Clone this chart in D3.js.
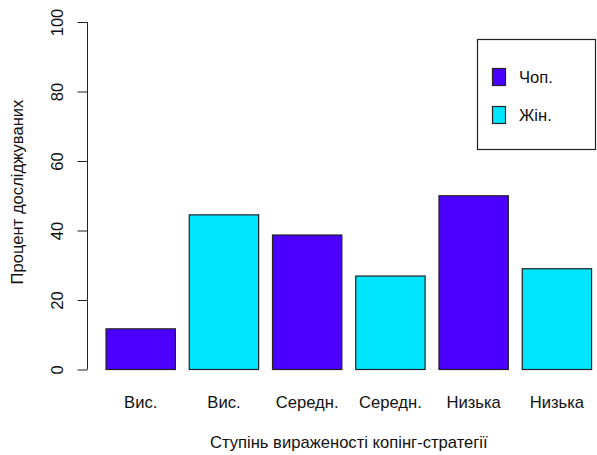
<!DOCTYPE html>
<html><head><meta charset="utf-8">
<script src="https://cdn.jsdelivr.net/npm/d3@7"></script>
<style>body{margin:0;background:#fff}svg{display:block;font-family:"Liberation Sans",Arial,sans-serif}</style>
</head><body><svg id="c" width="597" height="455"></svg>
<script>
const categories = ["Вис.","Вис.","Середн.","Середн.","Низька","Низька"];
const groups = ["Чоп.","Жін.","Чоп.","Жін.","Чоп.","Жін."];
const values = [11.7, 44.5, 38.7, 26.9, 50.0, 29.0];
const legendLabels = ["Чоп.","Жін."];
const legendColors = ["#4B00FF","#00E5FF"];
const yTicks = [0,20,40,60,80,100];

const FS = "16.6px";
const svg = d3.select("#c");
const color = d3.scaleOrdinal().domain(legendLabels).range(legendColors);
const x = d3.scaleLinear().domain([-0.08, 7.48]).range([86.6, 611]);
const y = d3.scaleLinear().domain([0, 100]).range([369.5, 22]);

svg.selectAll("rect.bar").data(values).join("rect").attr("class","bar")
  .attr("x",(d,i)=>x(0.2+i*1.2)).attr("width",(d,i)=>x(1.2+i*1.2)-x(0.2+i*1.2))
  .attr("y",d=>y(d)).attr("height",d=>y(0)-y(d))
  .attr("fill",(d,i)=>color(groups[i])).attr("stroke","#222").attr("stroke-width",1.2);

const ya = svg.append("g").attr("transform","translate(87.5,0)")
  .call(d3.axisLeft(y).tickValues(yTicks).tickSize(10).tickPadding(0));
ya.select(".domain").attr("stroke","#222").attr("d",`M0,${y(0)}V${y(100)}`);
ya.selectAll(".tick line").attr("stroke","#222");
ya.selectAll(".tick text").attr("x",null).attr("dy","0").attr("y",0)
  .attr("transform","translate(-24.5,0) rotate(-90)").attr("text-anchor","middle")
  .style("font-size",FS).attr("fill","#111").style("font-family","'Liberation Sans',Arial,sans-serif");

svg.selectAll("text.cat").data(categories).join("text").attr("class","cat")
  .attr("x",(d,i)=>x(0.7+i*1.2)).attr("y",408).attr("text-anchor","middle")
  .style("font-size",FS).attr("fill","#111").text(d=>d);

svg.append("text").attr("x",(x(-0.08)+x(7.48))/2).attr("y",447.5).attr("text-anchor","middle")
  .style("font-size",FS).attr("fill","#111").text("Ступінь вираженості копінг-стратегії");
svg.append("text").attr("transform",`translate(22.5,192) rotate(-90)`).attr("text-anchor","middle")
  .style("font-size",FS).attr("fill","#111").text("Процент досліджуваних");

const lg = svg.append("g");
lg.append("rect").attr("x",477.5).attr("y",39.5).attr("width",118).attr("height",110)
  .attr("fill","none").attr("stroke","#222").attr("stroke-width",1.2);
legendLabels.forEach((l,i)=>{
  lg.append("rect").attr("x",492.5).attr("y",68.5+i*38).attr("width",13).attr("height",17)
    .attr("fill",color(l)).attr("stroke","#222").attr("stroke-width",1.2);
  lg.append("text").attr("x",519).attr("y",83+i*38).style("font-size",FS).attr("fill","#111").text(l);
});
</script></body></html>
